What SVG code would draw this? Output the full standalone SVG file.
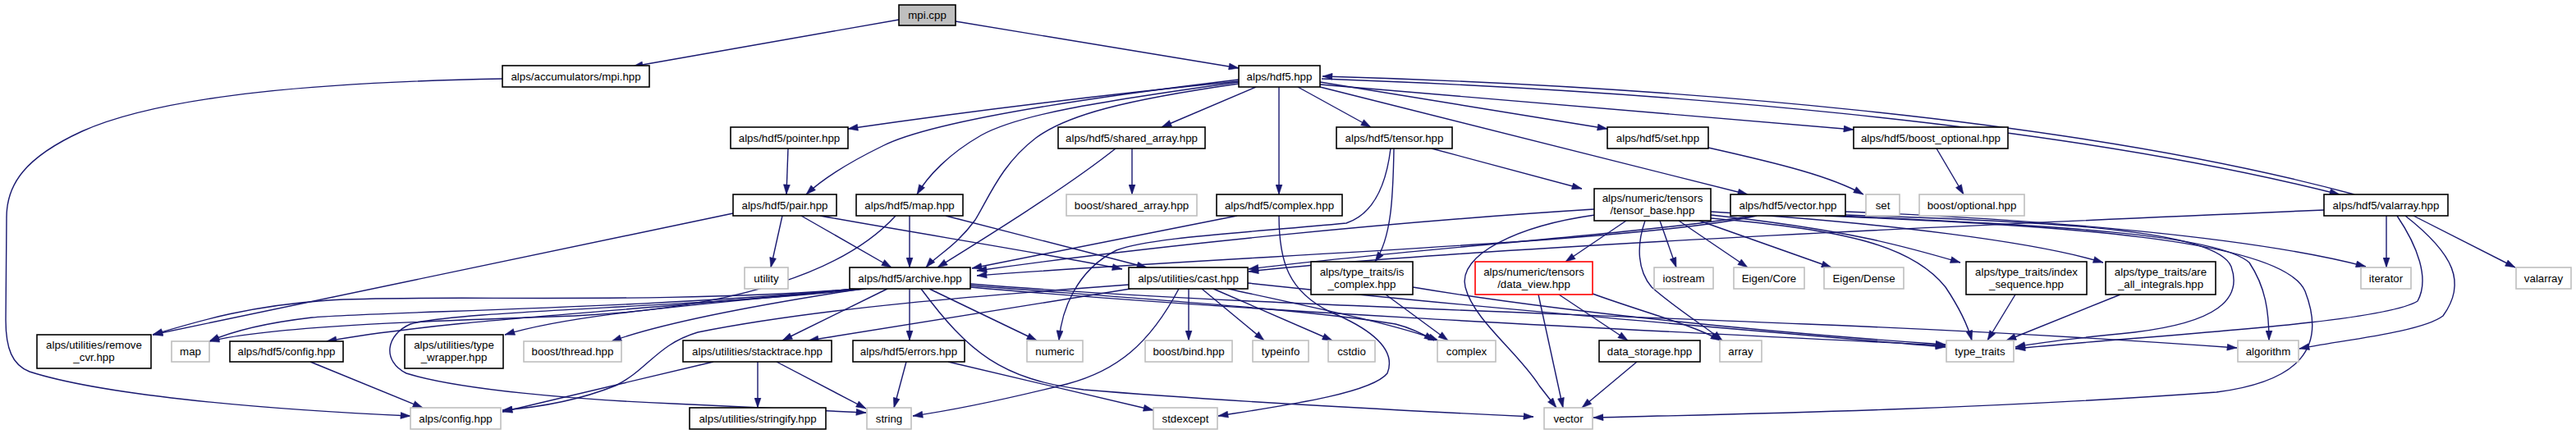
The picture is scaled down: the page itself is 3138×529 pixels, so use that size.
<svg xmlns="http://www.w3.org/2000/svg" width="3138" height="529" viewBox="0 0 3138 529">
<style>
.n rect{fill:#fff;stroke:#000;stroke-width:1.6}
.g rect{fill:#fff;stroke:#bfbfbf;stroke-width:1.6}
.r rect{fill:#fff;stroke:#ff0000;stroke-width:1.6}
.root rect{fill:#bfbfbf;stroke:#000;stroke-width:1.6}
text{font-family:"Liberation Sans",Arial,Helvetica,sans-serif;font-size:13.3px;fill:#000;text-anchor:middle}
#edges path{fill:none;stroke:#191970;stroke-width:1.4;marker-end:url(#a)}
</style>
<defs>
<marker id="a" viewBox="0 0 12 9" refX="12" refY="4.5" markerUnits="userSpaceOnUse" markerWidth="13" markerHeight="9" orient="auto">
<path d="M0,0.5 L12,4.5 L0,8.5 z" fill="#191970" stroke="#191970" stroke-width="0.5"/>
</marker>
</defs>
<rect width="3138" height="529" fill="#fff"/>
<g id="edges">
<path d="M1095,24 L771,81"/>
<path d="M1164,26 L1509,83"/>
<path d="M612,96 C400,100 200,115 100,160 C30,192 8,225 8,265 L7,390 C7,425 15,445 36,453 C120,480 300,498 500,507"/>
<path d="M1509,99 C1300,120 1150,140 1033,157"/>
<path d="M1509,97 C1300,122 1130,150 1075,178 C1030,200 1000,220 982,237"/>
<path d="M1509,100 C1330,125 1240,140 1195,165 C1155,188 1130,215 1117,237"/>
<path d="M1509,102 C1370,122 1300,140 1262,168 C1220,200 1205,240 1188,268 C1165,300 1140,312 1128,326"/>
<path d="M1359,181 C1300,228 1200,290 1142,326"/>
<path d="M1530,106 L1415,155"/>
<path d="M1558,106 L1558,237"/>
<path d="M1581,106 L1670,155"/>
<path d="M1608,100 L1958,157"/>
<path d="M1608,106 L2129,237"/>
<path d="M1608,103 L2258,158"/>
<path d="M1610,96 C2000,110 2500,148 2850,237"/>
<path d="M2868,237 C2520,143 2010,104 1611,93"/>
<path d="M960,181 L958,237"/>
<path d="M1379,181 L1379,237"/>
<path d="M953,263 L939,326"/>
<path d="M976,263 L1086,326"/>
<path d="M999,263 C1120,285 1280,310 1367,328"/>
<path d="M893,260 L186,408"/>
<path d="M1108,263 L1108,326"/>
<path d="M1152,263 L1397,326"/>
<path d="M1091,263 C1030,330 900,375 700,385 C500,392 330,398 255,416"/>
<path d="M1507,263 L1184,327"/>
<path d="M1558,263 C1558,320 1570,355 1620,380 C1680,405 1700,430 1690,455 C1670,480 1560,495 1484,507"/>
<path d="M1744,181 L1927,230"/>
<path d="M1698,181 C1697,240 1695,290 1675,319"/>
<path d="M1694,181 C1688,230 1670,262 1640,272 C1500,285 1400,290 1360,305 C1310,330 1293,380 1290,415"/>
<path d="M1942,255 C1700,270 1400,300 1190,330"/>
<path d="M1981,269 L1907,319"/>
<path d="M2022,269 L2042,326"/>
<path d="M2045,269 L2129,326"/>
<path d="M2070,269 L2231,326"/>
<path d="M2004,269 C1993,300 1995,330 2012,350 C2040,375 2080,400 2098,415"/>
<path d="M1943,262 C1850,275 1775,310 1785,350 C1795,390 1850,430 1875,470 L1896,497"/>
<path d="M2084,266 C2250,280 2330,300 2370,350 C2390,380 2398,400 2402,415"/>
<path d="M2084,262 C2250,280 2320,300 2388,320"/>
<path d="M2084,258 C2300,272 2480,295 2562,320"/>
<path d="M2140,263 C2000,295 1500,312 1190,336"/>
<path d="M2135,263 C2000,285 1700,305 1521,328"/>
<path d="M2248,262 C2500,270 2700,280 2718,325 C2732,365 2700,393 2600,405 C2520,413 2470,420 2455,423"/>
<path d="M2223,263 C2500,275 2780,290 2808,355 C2835,425 2800,465 2700,478 C2400,500 2100,505 1941,509"/>
<path d="M2248,258 C2500,268 2750,290 2882,325"/>
<path d="M2240,263 C2500,275 2700,285 2740,320 C2760,350 2764,380 2764,415"/>
<path d="M2831,256 C2500,270 1800,300 1521,331"/>
<path d="M2907,263 L2907,326"/>
<path d="M2920,263 C2945,300 2960,340 2945,367 C2900,395 2600,410 2455,425"/>
<path d="M2930,263 C2990,310 3005,345 2976,385 C2950,405 2850,415 2801,425"/>
<path d="M2940,263 L3064,326"/>
<path d="M2081,180 C2170,200 2230,215 2270,237"/>
<path d="M2359,181 L2392,237"/>
<path d="M1045,352 C800,372 520,358 400,366 C300,373 240,392 186,408"/>
<path d="M1042,352 C800,376 450,380 380,387 C320,394 280,405 255,416"/>
<path d="M1040,352 C800,378 550,388 398,416"/>
<path d="M1045,352 C850,372 700,382 615,408"/>
<path d="M1050,352 C900,375 800,396 745,416"/>
<path d="M1081,352 L953,415"/>
<path d="M1108,352 L1108,415"/>
<path d="M1132,352 L1263,415"/>
<path d="M1055,352 C850,375 560,378 500,395 C470,408 465,440 495,455 C560,475 700,487 820,492 C920,496 1000,500 1055,503"/>
<path d="M1122,352 C1180,430 1220,462 1320,475 C1500,490 1700,500 1868,508"/>
<path d="M1182,346 C1450,368 1800,378 2200,395 C2450,405 2600,415 2725,424"/>
<path d="M1182,350 C1500,378 1900,398 2370,421"/>
<path d="M1182,348 C1400,365 1600,378 1700,395 C1720,400 1735,408 1747,415"/>
<path d="M1377,352 L985,415"/>
<path d="M1448,352 L1448,415"/>
<path d="M1464,352 L1540,415"/>
<path d="M1478,352 L1623,415"/>
<path d="M1496,352 C1600,375 1700,395 1752,415"/>
<path d="M1436,352 C1400,420 1360,452 1300,468 C1220,488 1160,500 1112,507"/>
<path d="M1520,345 C1800,375 2100,400 2370,423"/>
<path d="M1375,347 C1200,360 1000,375 850,405 C800,420 790,450 750,470 C700,490 650,497 612,500"/>
<path d="M1688,359 L1764,415"/>
<path d="M1721,350 C1900,380 2150,405 2370,420"/>
<path d="M1899,359 L1983,415"/>
<path d="M1874,359 L1904,497"/>
<path d="M1940,358 C2000,380 2060,395 2096,415"/>
<path d="M1994,441 L1927,497"/>
<path d="M2455,359 L2421,415"/>
<path d="M2583,359 L2444,415"/>
<path d="M923,441 L923,497"/>
<path d="M946,441 L1055,498"/>
<path d="M869,441 L612,502"/>
<path d="M1104,441 L1089,497"/>
<path d="M1155,441 L1405,500"/>
<path d="M378,441 L515,497"/>
</g>
<g id="n_mpicpp" class="root"><rect x="1095" y="6" width="69" height="25"/><text x="1129.5" y="23">mpi.cpp</text></g>
<g id="n_accmpi" class="n"><rect x="612" y="80" width="179" height="26"/><text x="701.5" y="98">alps/accumulators/mpi.hpp</text></g>
<g id="n_hdf5" class="n"><rect x="1509" y="80" width="99" height="26"/><text x="1558.5" y="98">alps/hdf5.hpp</text></g>
<g id="n_pointer" class="n"><rect x="890" y="155" width="143" height="26"/><text x="961.5" y="173">alps/hdf5/pointer.hpp</text></g>
<g id="n_shared" class="n"><rect x="1289" y="155" width="179" height="26"/><text x="1378.5" y="173">alps/hdf5/shared_array.hpp</text></g>
<g id="n_tensor" class="n"><rect x="1628" y="155" width="141" height="26"/><text x="1698.5" y="173">alps/hdf5/tensor.hpp</text></g>
<g id="n_seth" class="n"><rect x="1958" y="155" width="123" height="26"/><text x="2019.5" y="173">alps/hdf5/set.hpp</text></g>
<g id="n_bopth" class="n"><rect x="2258" y="155" width="188" height="26"/><text x="2352" y="173">alps/hdf5/boost_optional.hpp</text></g>
<g id="n_pair" class="n"><rect x="893" y="237" width="126" height="26"/><text x="956" y="255">alps/hdf5/pair.hpp</text></g>
<g id="n_maph" class="n"><rect x="1043" y="237" width="130" height="26"/><text x="1108" y="255">alps/hdf5/map.hpp</text></g>
<g id="n_bshared" class="g"><rect x="1299" y="237" width="159" height="26"/><text x="1378.5" y="255">boost/shared_array.hpp</text></g>
<g id="n_complexh" class="n"><rect x="1482" y="237" width="153" height="26"/><text x="1558.5" y="255">alps/hdf5/complex.hpp</text></g>
<g id="n_tbase" class="n"><rect x="1942" y="230" width="142" height="39"/><text x="2013" y="246">alps/numeric/tensors</text><text x="2013" y="261">/tensor_base.hpp</text></g>
<g id="n_vectorh" class="n"><rect x="2108" y="237" width="140" height="26"/><text x="2178" y="255">alps/hdf5/vector.hpp</text></g>
<g id="n_set" class="g"><rect x="2273" y="237" width="41" height="26"/><text x="2293.5" y="255">set</text></g>
<g id="n_bopt" class="g"><rect x="2338" y="237" width="128" height="26"/><text x="2402" y="255">boost/optional.hpp</text></g>
<g id="n_valarrayh" class="n"><rect x="2831" y="237" width="151" height="26"/><text x="2906.5" y="255">alps/hdf5/valarray.hpp</text></g>
<g id="n_utility" class="g"><rect x="907" y="326" width="53" height="26"/><text x="933.5" y="344">utility</text></g>
<g id="n_archive" class="n"><rect x="1035" y="326" width="147" height="26"/><text x="1108.5" y="344">alps/hdf5/archive.hpp</text></g>
<g id="n_cast" class="n"><rect x="1375" y="326" width="145" height="26"/><text x="1447.5" y="344">alps/utilities/cast.hpp</text></g>
<g id="n_iscomplex" class="n"><rect x="1597" y="319" width="124" height="40"/><text x="1659" y="336">alps/type_traits/is</text><text x="1659" y="351">_complex.hpp</text></g>
<g id="n_dataview" class="r"><rect x="1797" y="319" width="143" height="40"/><text x="1868.5" y="336">alps/numeric/tensors</text><text x="1868.5" y="351">/data_view.hpp</text></g>
<g id="n_iostream" class="g"><rect x="2015" y="326" width="72" height="26"/><text x="2051" y="344">iostream</text></g>
<g id="n_eigencore" class="g"><rect x="2112" y="326" width="86" height="26"/><text x="2155" y="344">Eigen/Core</text></g>
<g id="n_eigendense" class="g"><rect x="2222" y="326" width="97" height="26"/><text x="2270.5" y="344">Eigen/Dense</text></g>
<g id="n_indexseq" class="n"><rect x="2395" y="319" width="147" height="40"/><text x="2468.5" y="336">alps/type_traits/index</text><text x="2468.5" y="351">_sequence.hpp</text></g>
<g id="n_areall" class="n"><rect x="2565" y="319" width="134" height="40"/><text x="2632" y="336">alps/type_traits/are</text><text x="2632" y="351">_all_integrals.hpp</text></g>
<g id="n_iterator" class="g"><rect x="2876" y="326" width="61" height="26"/><text x="2906.5" y="344">iterator</text></g>
<g id="n_valarray" class="g"><rect x="3065" y="326" width="67" height="26"/><text x="3098.5" y="344">valarray</text></g>
<g id="n_removecvr" class="n"><rect x="45" y="408" width="139" height="41"/><text x="114.5" y="425">alps/utilities/remove</text><text x="114.5" y="440">_cvr.hpp</text></g>
<g id="n_map" class="g"><rect x="209" y="416" width="46" height="25"/><text x="232" y="433">map</text></g>
<g id="n_hconfig" class="n"><rect x="280" y="416" width="138" height="25"/><text x="349" y="433">alps/hdf5/config.hpp</text></g>
<g id="n_typewrap" class="n"><rect x="493" y="408" width="120" height="41"/><text x="553" y="425">alps/utilities/type</text><text x="553" y="440">_wrapper.hpp</text></g>
<g id="n_bthread" class="g"><rect x="638" y="416" width="119" height="25"/><text x="697.5" y="433">boost/thread.hpp</text></g>
<g id="n_stacktrace" class="n"><rect x="832" y="415" width="181" height="26"/><text x="922.5" y="433">alps/utilities/stacktrace.hpp</text></g>
<g id="n_errors" class="n"><rect x="1039" y="415" width="136" height="26"/><text x="1107" y="433">alps/hdf5/errors.hpp</text></g>
<g id="n_numeric" class="g"><rect x="1251" y="415" width="68" height="26"/><text x="1285" y="433">numeric</text></g>
<g id="n_bbind" class="g"><rect x="1395" y="415" width="106" height="26"/><text x="1448" y="433">boost/bind.hpp</text></g>
<g id="n_typeinfo" class="g"><rect x="1526" y="415" width="68" height="26"/><text x="1560" y="433">typeinfo</text></g>
<g id="n_cstdio" class="g"><rect x="1618" y="415" width="57" height="26"/><text x="1646.5" y="433">cstdio</text></g>
<g id="n_complex" class="g"><rect x="1751" y="415" width="71" height="26"/><text x="1786.5" y="433">complex</text></g>
<g id="n_datastorage" class="n"><rect x="1948" y="415" width="123" height="26"/><text x="2009.5" y="433">data_storage.hpp</text></g>
<g id="n_array" class="g"><rect x="2095" y="415" width="51" height="26"/><text x="2120.5" y="433">array</text></g>
<g id="n_typetraits" class="g"><rect x="2371" y="415" width="82" height="26"/><text x="2412" y="433">type_traits</text></g>
<g id="n_algorithm" class="g"><rect x="2726" y="415" width="74" height="26"/><text x="2763" y="433">algorithm</text></g>
<g id="n_config" class="g"><rect x="500" y="497" width="110" height="26"/><text x="555" y="515">alps/config.hpp</text></g>
<g id="n_stringify" class="n"><rect x="840" y="497" width="166" height="26"/><text x="923" y="515">alps/utilities/stringify.hpp</text></g>
<g id="n_string" class="g"><rect x="1056" y="497" width="54" height="26"/><text x="1083" y="515">string</text></g>
<g id="n_stdexcept" class="g"><rect x="1405" y="497" width="78" height="26"/><text x="1444" y="515">stdexcept</text></g>
<g id="n_vector" class="g"><rect x="1881" y="497" width="59" height="26"/><text x="1910.5" y="515">vector</text></g>
</svg>
